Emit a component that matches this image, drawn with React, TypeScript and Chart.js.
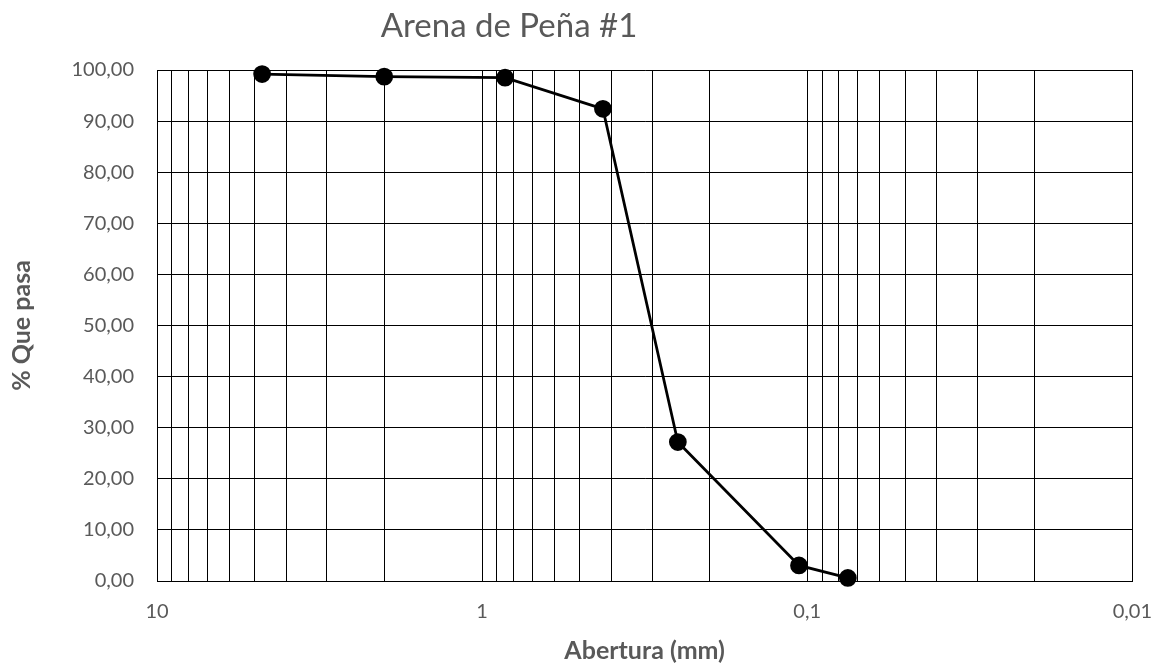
import React, { useEffect, useRef } from 'react';
import { Chart, registerables } from 'chart.js';

Chart.register(...registerables);

const chartTitle = 'Arena de Peña #1';
const xAxisTitle = 'Abertura (mm)';
const yAxisTitle = '% Que pasa';

// Sieve openings (mm) and percent passing
const aberturaMm = [4.75, 2.0, 0.85, 0.425, 0.25, 0.106, 0.075];
const quePasa = [99.2, 98.7, 98.5, 92.4, 27.2, 3.05, 0.6];

// Log-axis grid lines (Excel minor + major)
const xGridValues = [
  10, 9, 8, 7, 6, 5, 4, 3, 2,
  1, 0.9, 0.8, 0.7, 0.6, 0.5, 0.4, 0.3, 0.2,
  0.1, 0.09, 0.08, 0.07, 0.06, 0.05, 0.04, 0.03, 0.02,
  0.01,
];
const xLabelValues = [10, 1, 0.1, 0.01];
const xLabelTexts = ['10', '1', '0,1', '0,01'];

const yMin = 0;
const yMax = 100;
const yStep = 10;

const TEXT = '#595959';
const FONT = 'Lato';

const titlePlugin = {
  id: 'excelTitle',
  afterDraw(chart: any) {
    const ctx = chart.ctx;
    ctx.save();
    ctx.font = `33px ${FONT}`;
    ctx.fillStyle = TEXT;
    ctx.textAlign = 'center';
    ctx.textBaseline = 'alphabetic';
    ctx.fillText(chartTitle, 509, 37);
    ctx.restore();
  },
};

export default function App() {
  const ref = useRef<HTMLCanvasElement | null>(null);

  useEffect(() => {
    if (!ref.current) return;
    const chart = new Chart(ref.current, {
      type: 'scatter',
      data: {
        datasets: [
          {
            label: chartTitle,
            data: aberturaMm.map((x, i) => ({ x, y: quePasa[i] })),
            showLine: true,
            borderColor: '#000000',
            backgroundColor: '#000000',
            borderWidth: 2.75,
            pointRadius: 7.5,
            pointHoverRadius: 7.5,
            pointBackgroundColor: '#000000',
            pointBorderColor: '#000000',
            clip: false as any,
          },
        ],
      },
      options: {
        animation: false,
        responsive: true,
        maintainAspectRatio: false,
        layout: { padding: { top: 70, right: 26, left: 0, bottom: 0 } },
        plugins: {
          legend: { display: false },
          title: { display: false },
          tooltip: { enabled: false },
        },
        scales: {
          x: {
            type: 'logarithmic',
            reverse: true,
            min: 0.01,
            max: 10,
            border: { display: true, color: '#000000', width: 1 },
            grid: { color: '#000000', lineWidth: 1, drawTicks: false },
            afterBuildTicks: (scale: any) => {
              scale.ticks = xGridValues.map((v) => ({ value: v }));
            },
            afterFit: (scale: any) => {
              scale.height = 84;
            },
            ticks: {
              autoSkip: false,
              maxRotation: 0,
              minRotation: 0,
              padding: 19,
              color: TEXT,
              font: { family: FONT, size: 20 },
              callback: (v: any) => {
                const idx = xLabelValues.findIndex((t) => Math.abs(t - Number(v)) < 1e-9);
                return idx >= 0 ? xLabelTexts[idx] : '';
              },
            },
            title: {
              display: true,
              text: xAxisTitle,
              color: TEXT,
              font: { family: FONT, size: 25, weight: 'bold', lineHeight: 1 },
              padding: { top: 0, bottom: 1.5 },
            },
          },
          y: {
            type: 'linear',
            min: yMin,
            max: yMax,
            border: { display: true, color: '#000000', width: 1 },
            grid: { color: '#000000', lineWidth: 1, drawTicks: false },
            afterFit: (scale: any) => {
              scale.width = 157;
            },
            ticks: {
              stepSize: yStep,
              padding: 23,
              color: TEXT,
              font: { family: FONT, size: 20 },
              callback: (v: any) => Number(v).toFixed(2).replace('.', ','),
            },
            title: {
              display: true,
              text: yAxisTitle,
              color: TEXT,
              font: { family: FONT, size: 25, weight: 'bold', lineHeight: 1 },
              padding: { top: 9.5, bottom: 0 },
            },
          },
        },
      },
      plugins: [titlePlugin],
    } as any);
    return () => chart.destroy();
  }, []);

  return (
    <div style={{ position: 'fixed', left: 0, top: 0, width: 1171, height: 665, background: '#ffffff' }}>
      <canvas ref={ref} />
    </div>
  );
}
